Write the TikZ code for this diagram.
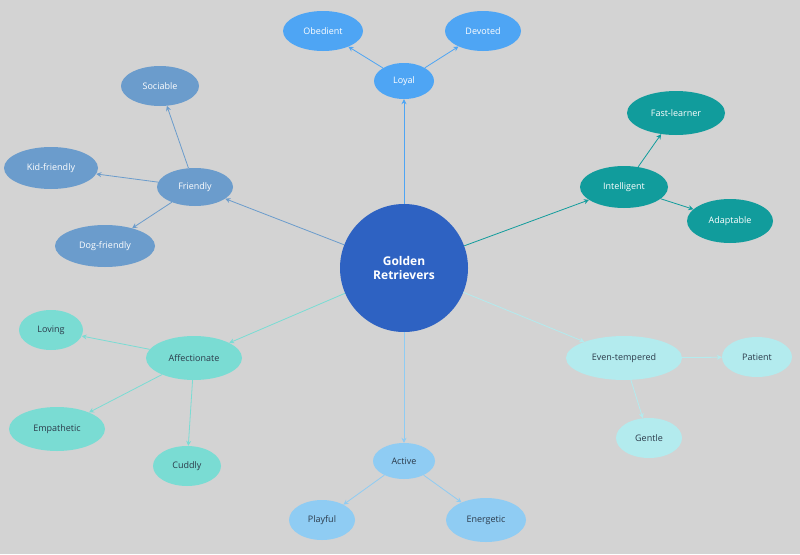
\documentclass[tikz,border=0pt]{standalone}
\usepackage{fontspec}
\setmainfont{Open Sans}
\usetikzlibrary{positioning,arrows}
\usetikzlibrary{shapes}
\usetikzlibrary{arrows.meta}
\usepackage{xcolor}
\definecolor{bgc}{HTML}{D3D3D3}
\definecolor{rootc}{HTML}{2E62C2}
\definecolor{loyalc}{HTML}{4EA5F4}
\definecolor{friendc}{HTML}{6B9CCC}
\definecolor{intelc}{HTML}{119C9C}
\definecolor{affc}{HTML}{7ADCD3}
\definecolor{evenc}{HTML}{B3EBEE}
\definecolor{actc}{HTML}{8FCCF3}
\definecolor{darktxt}{HTML}{2B3A4A}

\begin{document}
\begin{tikzpicture}[x=1pt,y=-1pt]
	\fill[bgc] (0,0) rectangle (800,554);
	\useasboundingbox (0,0) rectangle (800,554);
	\tikzstyle{every node}=[font=\small, ellipse, inner sep=0pt, text=white]
	\draw (404,268) node (gr) [circle, fill=rootc, minimum size=128pt, align=center, font=\large\bfseries]{Golden\\Retrievers};
	% first ring
	\draw (404,81) node (loyal) [fill=loyalc, minimum width=60pt, minimum height=36pt]{Loyal};
	\draw (195,187) node (friendly) [fill=friendc, minimum width=76pt, minimum height=38pt]{Friendly};
	\draw (624,187) node (intel) [fill=intelc, minimum width=88pt, minimum height=42pt]{Intelligent};
	\draw (194,358) node (affect) [fill=affc, text=darktxt, minimum width=96pt, minimum height=44pt]{Affectionate};
	\draw (624,358) node (even) [fill=evenc, text=darktxt, minimum width=116pt, minimum height=44pt]{Even-tempered};
	\draw (404,461) node (active) [fill=actc, text=darktxt, minimum width=62pt, minimum height=36pt]{Active};
	% leaves
	\draw (323,31) node (obed) [fill=loyalc, minimum width=80pt, minimum height=40pt]{Obedient};
	\draw (483,31) node (devot) [fill=loyalc, minimum width=76pt, minimum height=40pt]{Devoted};
	\draw (160,86) node (socia) [fill=friendc, minimum width=78pt, minimum height=40pt]{Sociable};
	\draw (51,168) node (kidf) [fill=friendc, minimum width=94pt, minimum height=42pt]{Kid-friendly};
	\draw (105,246) node (dogf) [fill=friendc, minimum width=100pt, minimum height=42pt]{Dog-friendly};
	\draw (676,113) node (fastl) [fill=intelc, minimum width=98pt, minimum height=44pt]{Fast-learner};
	\draw (730,221) node (adapt) [fill=intelc, minimum width=86pt, minimum height=44pt]{Adaptable};
	\draw (51,330) node (loving) [fill=affc, text=darktxt, minimum width=64pt, minimum height=40pt]{Loving};
	\draw (57,429) node (empat) [fill=affc, text=darktxt, minimum width=96pt, minimum height=44pt]{Empathetic};
	\draw (187,466) node (cuddly) [fill=affc, text=darktxt, minimum width=68pt, minimum height=40pt]{Cuddly};
	\draw (757,357) node (patient) [fill=evenc, text=darktxt, minimum width=70pt, minimum height=40pt]{Patient};
	\draw (649,438) node (gentle) [fill=evenc, text=darktxt, minimum width=66pt, minimum height=40pt]{Gentle};
	\draw (322,520) node (playf) [fill=actc, text=darktxt, minimum width=66pt, minimum height=40pt]{Playful};
	\draw (486,520) node (energ) [fill=actc, text=darktxt, minimum width=80pt, minimum height=44pt]{Energetic};
	\tikzset{link/.style={-{Stealth[length=5pt,width=5pt]}, line width=0.8pt}}
	\draw [link, loyalc] (gr) to (loyal);
	\draw [link, friendc] (gr) to (friendly);
	\draw [link, intelc] (gr) to (intel);
	\draw [link, affc] (gr) to (affect);
	\draw [link, evenc] (gr) to (even);
	\draw [link, actc] (gr) to (active);
	\draw [link, loyalc] (loyal) to (obed);
	\draw [link, loyalc] (loyal) to (devot);
	\draw [link, friendc] (friendly) to (socia);
	\draw [link, friendc] (friendly) to (kidf);
	\draw [link, friendc] (friendly) to (dogf);
	\draw [link, intelc] (intel) to (fastl);
	\draw [link, intelc] (intel) to (adapt);
	\draw [link, affc] (affect) to (loving);
	\draw [link, affc] (affect) to (empat);
	\draw [link, affc] (affect) to (cuddly);
	\draw [link, evenc] (even) to (patient);
	\draw [link, evenc] (even) to (gentle);
	\draw [link, actc] (active) to (playf);
	\draw [link, actc] (active) to (energ);
\end{tikzpicture}
\end{document}
